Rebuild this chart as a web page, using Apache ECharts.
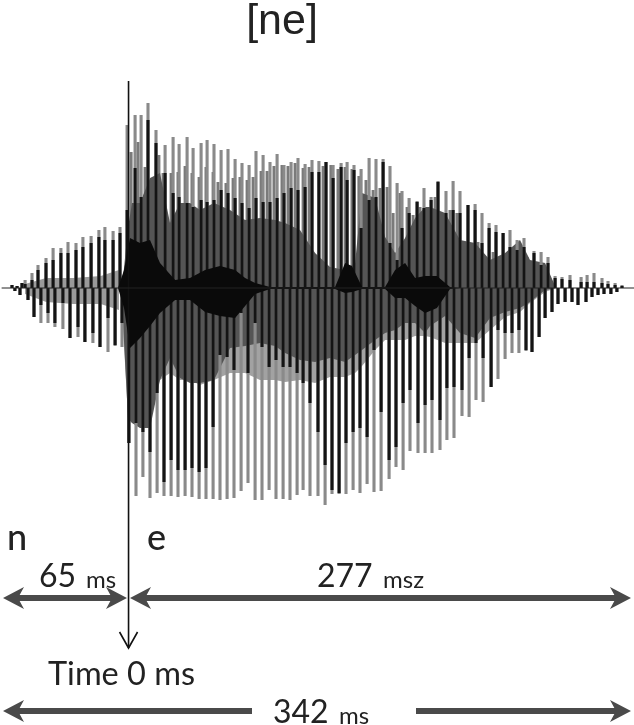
<!DOCTYPE html>
<html>
<head>
<meta charset="utf-8">
<style>
  html, body { margin: 0; padding: 0; background: #fff; }
  #chart { width: 634px; height: 725px; }
  #chart canvas { filter: blur(0.45px); }
</style>
<script src="https://cdn.jsdelivr.net/npm/echarts@6/dist/echarts.min.js"></script>
</head>
<body>
<div id="chart"></div>
<script>
// upper lobes of each glottal pulse: time (ms), peak, top of the black part
const upperTimes = [-63.8,-61,-58.3,-56.6,-52.8,-49.5,-45.1,-41.2,-36.9,-33,-28.6,-24.8,-20.3,-16,-12.7,-8.2,-4.4,-0.5,3.9,7.2,11,15.4,20.4,24.8,28.1,32.5,35.8,40.2,43.5,47.3,51.2,55,58.9,62.7,66.6,70.4,74.3,78.1,82,85.8,89.7,93.5,97.4,101.2,105,108.9,112.8,117.2,120.5,124.3,128.2,132.6,136.4,140.3,144.1,148,150.7,154.6,159,162.8,166.7,170.5,174.9,178.8,182.6,187,190.9,194.7,198.6,202.4,206.3,210.1,214,217.8,223.3,227.2,231,234.9,238.7,243.1,249.2,252.5,256.3,260.7,264,267.9,271.7];
const upperPeak = [3,2,5,8,15,23,30,40,40,46,45,51,52,58,61,57,61,163,173,173,185,158,143,151,144,151,140,145,148,144,138,139,129,125,123,137,133,126,134,123,126,130,124,128,127,126,123,125,126,123,119,130,129,129,122,105,97,90,87,100,91,107,97,107,97,83,84,75,65,63,55,58,48,50,37,36,31,12,11,13,11,13,15,10,7,5,3];
const upperDark = [3,2,5,4,8,18,25,28,35,35,38,41,45,51,48,48,55,78,120,91,168,145,115,95,91,85,81,88,86,88,98,95,90,85,80,90,86,86,90,95,100,98,101,116,116,126,110,121,108,118,60,88,91,126,45,28,60,75,86,80,88,106,75,78,75,83,78,45,60,56,55,41,38,41,35,23,25,10,9,8,6,6,6,5,4,3,2];

// shorter grey lobes that sit just before the main ones
const shoulderTimes = [1.7,5.5,9.4,17,19.3,23.7,27.5,31.4,35.2,39.1,42.9,46.8,49.5,53.9,57.8,61.6,65.5,68.8,73.2,76.5,80.3,84.7,88,91.9,96.3,99.6,107.3,111.6,115.5,119.4,123.2,127,130.9,134.8,138.6,142.5,145.8,149.6,153.5,156.8,160.6,164.5,168.9,173.3,177.1,180.9,184.3,188.1,192.5,196.9,200.8,204.6,208.5,212.3,215.6,219.5];
const shoulderPeak = [136,146,121,133,115,115,116,122,115,111,121,116,106,105,110,111,108,111,117,117,122,123,122,125,120,121,122,123,119,121,119,112,108,98,100,101,75,95,81,73,81,80,91,73,78,75,40,45,46,28,36,31,33,41,40,31];

// lower lobes: time (ms), trough, end of the black part
const lowerTimes = [-62.2,-59.4,-55,-51.7,-47.9,-44,-40.2,-35.8,-31.9,-27.5,-23.7,-19.3,-15.4,-11,-7.1,-3.3,0.5,4.4,8.2,12.1,16,19.8,23.7,27.5,31.4,35.2,39.1,42.9,46.8,50.6,54.5,58.3,62.2,66,69.9,73.7,77.6,81.4,85.3,89.1,93,96.3,100.1,104.5,108.4,112.2,116.1,119.9,123.8,127.6,131.5,135.3,139.2,143.6,147.4,151.3,155.1,159.5,163.4,167.2,171.6,175.4,179.3,183.7,187.6,191.4,195.3,199.7,203.5,207.4,211.2,215,218.9,222.2,226.1,229.4,233.2,236.5,240.4,244.2,247.5,251.9,255.2,258.5,261.8,265.6,268.9];
const lowerPeak = [-3,-7,-12,-29,-35,-35,-39,-41,-50,-49,-54,-55,-59,-64,-58,-59,-155,-208,-189,-210,-205,-208,-208,-209,-208,-209,-211,-211,-211,-212,-211,-210,-203,-195,-212,-212,-202,-211,-211,-212,-207,-202,-208,-208,-217,-206,-206,-206,-202,-205,-196,-204,-203,-191,-179,-182,-163,-165,-165,-165,-162,-152,-150,-128,-129,-112,-114,-99,-91,-71,-65,-65,-63,-64,-49,-30,-24,-16,-14,-14,-17,-14,-9,-7,-6,-6,-4];
const lowerDark = [-3,-7,-12,-29,-17,-25,-35,-15,-50,-39,-54,-45,-59,-30,-57,-35,-155,-135,-144,-164,-105,-194,-172,-182,-182,-180,-184,-180,-139,-67,-69,-82,-25,-85,-35,-59,-79,-72,-79,-79,-85,-95,-115,-144,-177,-202,-205,-155,-144,-140,-149,-62,-124,-172,-159,-115,-102,-135,-117,-112,-132,-100,-99,-102,-70,-55,-70,-99,-42,-45,-45,-42,-62,-64,-49,-30,-24,-16,-14,-14,-17,-14,-9,-7,-6,-6,-4];

// filled envelopes between the pulses
const nasalTimes = [-56.6,-45,-30,-15,-5];
const nasalUpper = [4,10,10,12,18];
const nasalLower = [-6,-14,-16,-16,-22];
const bandTimes = [-3.3,0,2.2,6.6,12.1,17.6,23.1,28.6,34.1,39.6,47.3,56.1,64.4,72.6,80.9,86.4,94.6,102.9,111.1,119.4,124.9,128.7,135.9,141.4,146.9,152.4,157.9,163.4,166.1,174.4,182.6,190.9,199.1,207.4,215.6,221.1,229.4,235.4];
const bandUpper = [0,60,85,85,110,115,65,85,85,78,85,78,68,70,68,65,58,35,21,18,25,95,90,51,35,50,70,81,81,75,48,45,28,35,48,28,25,0];
const bandLower = [-15,-130,-135,-140,-140,-92,-70,-90,-95,-95,-92,-60,-58,-55,-58,-65,-72,-74,-70,-74,-67,-62,-52,-45,-42,-35,-35,-45,-38,-28,-45,-50,-30,-24,-20,-14,-2,0];
const paleLower = [-20,-130,-135,-110,-120,-92,-85,-92,-92,-97,-92,-85,-85,-92,-92,-94,-92,-95,-89,-89,-85,-78,-62,-52,-52,-52,-48,-48,-49,-55,-55,-55,-42,-29,-24,-15,-4,0];

// black core round the zero line
const coreTimes = [-5.5,-2.2,1.1,6.6,12.1,17.6,25.9,34.1,42.4,50.6,58.9,64.4,69.9,78.1,113.9,119.4,123.2,128.7,141.4,146.9,152.4,157.9,163.4,169.9,177.1,182.6];
const coreUpper = [0,18,50,45,48,25,8,10,18,22,18,10,5,1,1,25,22,1,1,18,25,10,12,12,1,0];
const coreLower = [0,-20,-60,-50,-38,-25,-12,-12,-24,-28,-30,-18,-6,-1,-1,-5,-4,-1,-1,-10,-10,-18,-25,-20,-1,0];

// annotations
const zeroLine = [207, -360];
const midArrowY = -310;
const bottomArrowY = -423;
const nSpan = [-68.75, -0.55];
const eSpan = [1.1, 276.65];
const totalLeft = [68.2, -68.75];
const totalRight = [158.4, 276.65];

const chart = echarts.init(document.getElementById("chart"), null, { renderer: "canvas" });

function spikes(times, ends, color, width) {
  return {
    type: "custom",
    silent: true,
    animation: false,
    data: times.map((t, i) => [t, ends[i]]),
    renderItem: (params, api) => {
      const a = api.coord([api.value(0), 0]);
      const b = api.coord([api.value(0), api.value(1)]);
      return {
        type: "line",
        shape: { x1: a[0], y1: a[1], x2: b[0], y2: b[1] },
        style: { stroke: color, lineWidth: width },
      };
    },
  };
}

function band(times, upper, lower, color) {
  return {
    type: "custom",
    silent: true,
    animation: false,
    data: times.map((t, i) => [t, upper[i], lower[i]]),
    renderItem: (params, api) => {
      if (params.dataIndex !== 0) return null;
      const top = times.map((t, i) => api.coord([t, upper[i]]));
      const bottom = times.map((t, i) => api.coord([t, lower[i]])).reverse();
      return {
        type: "polygon",
        shape: { points: top.concat(bottom) },
        style: { fill: color },
      };
    },
  };
}

// thick barbed arrow; a head is drawn only at the ends that are asked for
function arrow(from, to, y, headFrom, headTo) {
  return {
    type: "custom",
    silent: true,
    animation: false,
    data: [[from, y]],
    renderItem: (params, api) => {
      const a = api.coord([from, y]);
      const b = api.coord([to, y]);
      const dir = b[0] > a[0] ? 1 : -1;
      const head = (p, d) => ({
        type: "polygon",
        shape: {
          points: [
            [p[0], p[1]],
            [p[0] - d * 21, p[1] - 11],
            [p[0] - d * 15, p[1]],
            [p[0] - d * 21, p[1] + 11],
          ],
        },
        style: { fill: "#4a4a4a" },
      });
      const children = [
        {
          type: "line",
          shape: { x1: a[0] + (headFrom ? dir * 12 : 0), y1: a[1], x2: b[0] - (headTo ? dir * 12 : 0), y2: b[1] },
          style: { stroke: "#4a4a4a", lineWidth: 6 },
        },
      ];
      if (headFrom) children.push(head(a, -dir));
      if (headTo) children.push(head(b, dir));
      return { type: "group", children };
    },
  };
}

const zeroMark = {
  type: "custom",
  silent: true,
  animation: false,
  data: [[0, zeroLine[0]]],
  renderItem: (params, api) => {
    const a = api.coord([0.3, zeroLine[0]]);
    const b = api.coord([0.3, zeroLine[1]]);
    const style = { stroke: "#111", lineWidth: 1.6, fill: null };
    return {
      type: "group",
      children: [
        { type: "line", shape: { x1: a[0], y1: a[1], x2: b[0], y2: b[1] }, style },
        {
          type: "polyline",
          shape: { points: [[b[0] - 9, b[1] - 16], [b[0], b[1]], [b[0] + 9, b[1] - 16]] },
          style,
        },
      ],
    };
  },
};

const baseline = {
  type: "line",
  silent: true,
  animation: false,
  symbol: "none",
  data: [[-69.5, 0], [278.3, 0]],
  lineStyle: { color: "#222", width: 1 },
};

const labelFont = "Lato, sans-serif";
const label = (x, y, text, size, weight) => ({
  type: "text",
  x,
  y,
  silent: true,
  style: { text, fontSize: size, fontWeight: weight || 400, fontFamily: labelFont, fill: "#222", verticalAlign: "bottom" },
});

chart.setOption({
  animation: false,
  backgroundColor: "#fff",
  grid: { left: 0, right: 0, top: 0, bottom: 0 },
  xAxis: { type: "value", min: -70.4, max: 278.3, show: false },
  yAxis: { type: "value", min: -437, max: 288, show: false },
  series: [
    band(nasalTimes, nasalUpper, nasalLower, "#9a9a9a"),
    band(bandTimes, bandUpper.map(() => 0), paleLower, "#a2a2a2"),
    spikes(shoulderTimes, shoulderPeak, "#7a7a7a", 3),
    band(bandTimes, bandUpper, bandLower, "#555555"),
    spikes(upperTimes, upperPeak, "#8a8a8a", 3.1),
    spikes(lowerTimes, lowerPeak, "#8a8a8a", 3.1),
    spikes(upperTimes, upperDark, "#141414", 3.1),
    spikes(lowerTimes, lowerDark, "#141414", 3.1),
    band(coreTimes, coreUpper, coreLower, "#0a0a0a"),
    baseline,
    zeroMark,
    arrow(nSpan[0], nSpan[1], midArrowY, true, true),
    arrow(eSpan[0], eSpan[1], midArrowY, true, true),
    arrow(totalLeft[0], totalLeft[1], bottomArrowY, false, true),
    arrow(totalRight[0], totalRight[1], bottomArrowY, false, true),
  ],
  graphic: [
    { type: "text", x: 282, y: 22, silent: true, style: { text: "[ne]", fontSize: 43, fontFamily: "'Liberation Sans', Arial", fill: "#222", align: "center", verticalAlign: "middle" } },
    label(7, 556, "n", 36, 500),
    label(147, 556, "e", 36, 500),
    label(39, 593, "65", 32),
    label(86, 592, "ms", 24),
    label(317, 593, "277", 32),
    label(383, 592, "msz", 24),
    label(48, 691, "Time 0 ms", 32.5),
    label(273, 729, "342", 32),
    label(339, 728, "ms", 24),
  ],
});
</script>
</body>
</html>
